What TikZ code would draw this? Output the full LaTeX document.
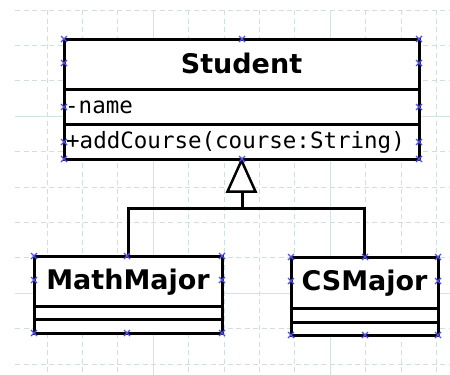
\documentclass[tikz,border=0pt]{standalone}
\usepackage{fontspec}
\setmainfont{DejaVu Sans}
\newfontfamily\monofont{DejaVu Sans Mono}
\definecolor{gridminor}{HTML}{CFDFDF}
\definecolor{gridmajor}{HTML}{D3E2E2}
\definecolor{handle}{HTML}{5050E8}
\tikzset{
  classbox/.style={draw=black, line width=3pt, fill=white, inner sep=0pt},
  divider/.style={line width=3pt},
  titletext/.style={font=\fontsize{27}{30}\selectfont\bfseries, anchor=base, inner sep=0pt},
  membertext/.style={font=\fontsize{22.5}{26}\selectfont\monofont, anchor=base west, inner sep=0pt},
  gen/.style={line width=3pt},
  gentip/.style={line width=2.5pt, fill=white, line join=miter},
  minorgrid/.style={gridminor, line width=1pt, dash pattern=on 5pt off 3.5pt},
  majorgrid/.style={gridmajor, line width=1pt},
  handlemark/.style={handle, line width=1.2pt}
}
\newcommand{\handleat}[2]{\draw[handlemark] (#1-3,#2-3) -- (#1+3,#2+3) (#1-3,#2+3) -- (#1+3,#2-3);}
\begin{document}
\begin{tikzpicture}[x=1pt, y=-1pt]
  \useasboundingbox (0,0) rectangle (450,375);
  \fill[white] (0,0) rectangle (450,375);

  % background grid
  \foreach \k in {0,...,10} {
    \pgfmathsetmacro{\gy}{10+\k*35.4}
    \ifnum\k=3 \draw[majorgrid] (15,\gy) -- (450,\gy);
    \else\ifnum\k=8 \draw[majorgrid] (15,\gy) -- (450,\gy);
    \else \draw[minorgrid] (15,\gy) -- (450,\gy);
    \fi\fi
  }
  \foreach \k in {0,...,11} {
    \pgfmathsetmacro{\gx}{47+\k*35.4}
    \ifnum\k=3 \draw[majorgrid] (\gx,10) -- (\gx,375);
    \else\ifnum\k=8 \draw[majorgrid] (\gx,10) -- (\gx,375);
    \else \draw[minorgrid] (\gx,10) -- (\gx,375);
    \fi\fi
  }

  % class Student
  \node[classbox, minimum width=355pt, minimum height=120pt] (student) at (241.5,99) {};
  \draw[divider] (64,89) -- (419,89);
  \draw[divider] (64,124) -- (419,124);
  \node[titletext] (studentname) at (241.5,73) {Student};
  \node[membertext] (attrname) at (65,113) {-name};
  \node[membertext] (opadd) at (66,148) {+addCourse(course:String)};

  % class MathMajor
  \node[classbox, minimum width=188pt, minimum height=77pt] (mathmajor) at (128,294.5) {};
  \draw[divider] (34,306) -- (222,306);
  \draw[divider] (34,319) -- (222,319);
  \node[titletext] (mathname) at (128,289) {MathMajor};

  % class CSMajor
  \node[classbox, minimum width=147pt, minimum height=78pt] (csmajor) at (364.5,296) {};
  \draw[divider] (291,308) -- (438,308);
  \draw[divider] (291,322) -- (438,322);
  \node[titletext] (csname) at (364.5,290) {CSMajor};

  % generalization
  \coordinate (bus) at (242,208);
  \coordinate (tipbase) at (242,190);
  \draw[gen] (mathmajor.north) |- (bus) -| (csmajor.north);
  \draw[gen] (bus) -- (tipbase);
  \draw[gentip] (student.south) -- ++(-14,31) -- ++(28,0) -- cycle;

  % selection handles
  \foreach \hx/\hy in {64/39,242/39,419/39,64/63,419/63,64/107,419/107,64/142,419/142,64/159,242/159,419/159,
                       34/256,127/256,222/256,34/280,222/280,34/333,127/333,222/333,
                       291/257,365/257,438/257,291/281,438/281,291/335,365/335,438/335} {
    \handleat{\hx}{\hy}
  }
\end{tikzpicture}
\end{document}
